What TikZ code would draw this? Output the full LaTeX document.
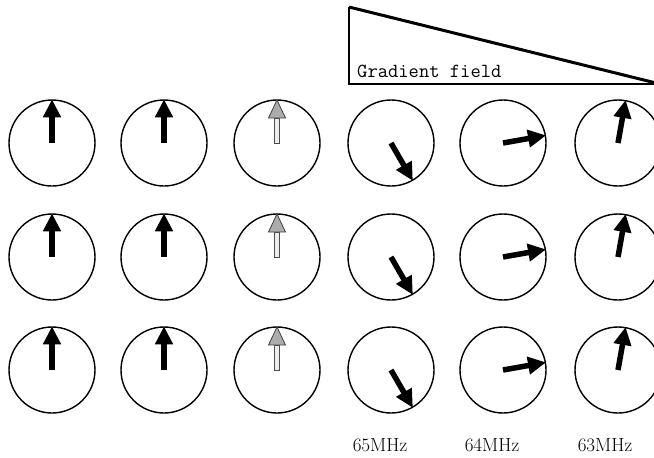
\documentclass[tikz,border=0pt]{standalone}
\usetikzlibrary{arrows.meta}
\begin{document}
\begin{tikzpicture}[x=1pt,y=-1pt,
  spin/.style={circle,draw,line width=1.4pt,minimum size=86pt,inner sep=0pt},
  spinarrow/.style={line width=5.5pt,-{Triangle[length=18pt,width=17pt]}},
  freqlabel/.style={font=\fontsize{19}{21}\selectfont,inner sep=0pt},
  hollowspin/.pic={
    \filldraw[fill=gray!15,draw=black!70,line width=0.8pt]
      (0,-2.75) rectangle (25,2.75);
    \filldraw[fill=gray!65,draw=black!75,line width=0.8pt]
      (25,-8.5) -- (43,0) -- (25,8.5) -- cycle;
  }]
\useasboundingbox (0,0) rectangle (654,458);
% gradient wedge
\coordinate (gA) at (349,7);
\coordinate (gB) at (349,84);
\coordinate (gC) at (660,84);
\draw[line width=2pt] (gA) -- (gB) -- (gC);
\draw[line width=3pt] (gA) -- (gC);
\node[anchor=base west,inner sep=0pt,font=\ttfamily\fontsize{20}{22}\selectfont] (glabel) at (357,77) {Gradient field};
% circles
\foreach \r/\y in {1/143,2/257,3/370}{
  \foreach \c/\x in {1/52,2/164,3/277,4/391,5/503,6/618}{
    \node[spin] (c\r\c) at (\x,\y) {};
  }
  \draw[spinarrow] (c\r1.center) -- (c\r1.90);
  \draw[spinarrow] (c\r2.center) -- (c\r2.90);
  \pic[rotate=90] at (c\r3.center) {hollowspin};
  \draw[spinarrow] (c\r4.center) -- (c\r4.-60);
  \draw[spinarrow] (c\r5.center) -- (c\r5.10);
  \draw[spinarrow] (c\r6.center) -- (c\r6.80);
}
% frequency labels
\node[freqlabel] (f65) at (380,445) {65MHz};
\node[freqlabel] (f64) at (492,445) {64MHz};
\node[freqlabel] (f63) at (605,445) {63MHz};
\end{tikzpicture}
\end{document}
